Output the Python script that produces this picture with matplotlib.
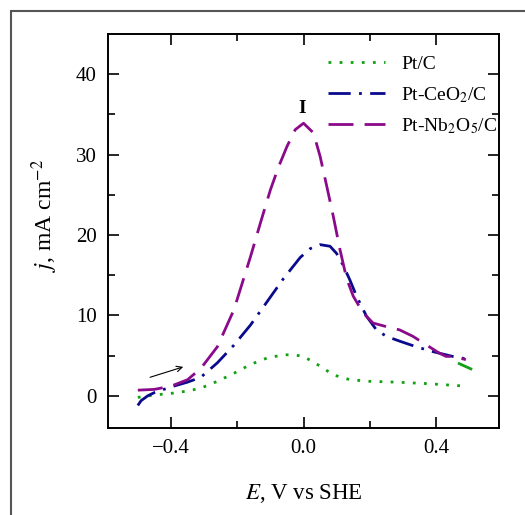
import numpy as np
import matplotlib
matplotlib.use("Agg")
import matplotlib.pyplot as plt
from matplotlib.patches import Rectangle
from matplotlib.ticker import FixedLocator

plt.rcParams["font.family"] = ["Liberation Serif", "DejaVu Serif"]
plt.rcParams["mathtext.fontset"] = "stix"

# Pt/C (green, dotted)
ptc_E = [-0.50, -0.45, -0.40, -0.35, -0.31, -0.26, -0.21, -0.16, -0.11, -0.06,
         -0.03, 0.00, 0.05, 0.09, 0.14, 0.20, 0.28, 0.38, 0.49]
ptc_j = [-0.2, 0.1, 0.3, 0.6, 0.95, 1.8, 2.8, 3.9, 4.7, 5.1,
         5.1, 4.9, 3.7, 2.6, 2.0, 1.8, 1.7, 1.5, 1.2]
# short solid green piece at the right end
ptc2_E = [0.47, 0.505]
ptc2_j = [4.0, 3.35]

# Pt-CeO2/C (navy, dash-dot)
ce_E = [-0.50, -0.49, -0.47, -0.45, -0.40, -0.35, -0.31, -0.26, -0.21, -0.16,
        -0.11, -0.06, -0.01, 0.02, 0.05, 0.08, 0.10, 0.12, 0.14, 0.16,
        0.19, 0.22, 0.25, 0.29, 0.34, 0.39, 0.45, 0.49]
ce_j = [-1.2, -0.6, 0.0, 0.4, 1.1, 1.7, 2.3, 4.1, 6.3, 8.8,
        11.7, 14.6, 17.2, 18.3, 18.8, 18.6, 17.7, 16.2, 14.4, 12.4,
        9.9, 8.2, 7.4, 6.8, 6.1, 5.5, 4.9, 4.6]

# Pt-Nb2O5/C (purple, dashed)
nb_E = [-0.50, -0.45, -0.40, -0.35, -0.31, -0.26, -0.21, -0.16, -0.13, -0.10,
        -0.075, -0.05, -0.025, 0.00, 0.03, 0.05, 0.07, 0.09, 0.11, 0.13,
        0.15, 0.18, 0.21, 0.25, 0.29, 0.33, 0.37, 0.41, 0.43, 0.45, 0.49]
nb_j = [0.7, 0.8, 1.2, 2.0, 3.4, 6.1, 10.7, 17.3, 21.5, 25.6,
        28.5, 31.0, 33.1, 33.9, 32.7, 29.8, 26.1, 22.3, 18.2, 14.6,
        12.4, 10.3, 9.05, 8.6, 8.2, 7.4, 6.35, 5.3, 4.9, 4.9, 4.5]

fig = plt.figure(figsize=(5.25, 5.15), dpi=100)
ax = fig.add_axes([0.2057, 0.169, 0.7448, 0.765])

# outer grey frame
fig.patches.append(Rectangle((11 / 525, -0.2), 1.2, 0.2 + (515 - 11) / 515,
                             transform=fig.transFigure, fill=False,
                             edgecolor="#555555", lw=1.5))

green = "#13a013"
navy = "#0a0a8c"
purple = "#8b0a8b"

ax.plot(ptc_E, ptc_j, color=green, lw=2, linestyle=(0, (1, 3)), label="Pt/C")
ax.plot(ptc2_E, ptc2_j, color=green, lw=2)
ax.plot(ce_E, ce_j, color=navy, lw=2, linestyle=(0, (8, 3, 1, 3)),
        label=r"Pt-CeO$_2$/C")
ax.plot(nb_E, nb_j, color=purple, lw=2, linestyle=(0, (9, 4)),
        label=r"Pt-Nb$_2$O$_5$/C")

ax.annotate("", xy=(-0.355, 3.7), xytext=(-0.471, 2.2),
            arrowprops=dict(arrowstyle="->", lw=0.8, color="black"))
ax.text(-0.003, 34.7, "I", fontsize=14, fontweight="bold", ha="center", va="bottom")

ax.set_xlim(-0.59, 0.59)
ax.set_ylim(-4, 45)
ax.set_xticks([-0.4, 0.0, 0.4])
ax.set_xticklabels(["\u22120.4", "0.0", "0.4"])
ax.xaxis.set_minor_locator(FixedLocator([-0.2, 0.2]))
ax.set_yticks([0, 10, 20, 30, 40])
ax.yaxis.set_minor_locator(FixedLocator([5, 15, 25, 35]))
ax.tick_params(which="both", direction="in", top=True, right=True, width=1.2)
ax.tick_params(which="major", length=8, labelsize=15, pad=8)
ax.tick_params(which="minor", length=5)
for s in ax.spines.values():
    s.set_linewidth(1.4)

ax.set_xlabel(r"$E$, V vs SHE", fontsize=16.5, labelpad=17)
ax.set_ylabel(r"$j$, mA cm$^{-2}$", fontsize=17)
ax.yaxis.set_label_coords(-0.123, 0.54)

ax.legend(loc="upper right", frameon=False, fontsize=14, handlelength=2.9,
          handletextpad=0.85, labelspacing=0.6, borderaxespad=0.0,
          bbox_to_anchor=(1.015, 0.965))

fig.savefig("out.png", dpi=100)
